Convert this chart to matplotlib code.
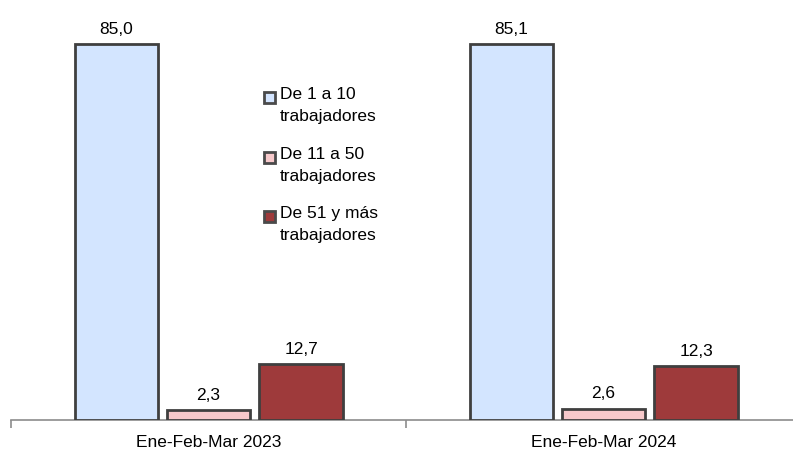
import numpy as np
import matplotlib.pyplot as plt
from matplotlib.patches import Rectangle

plt.rcParams['font.family'] = ['Liberation Sans', 'DejaVu Sans']

periodos = ['Ene-Feb-Mar 2023', 'Ene-Feb-Mar 2024']
series = ['De 1 a 10\ntrabajadores', 'De 11 a 50\ntrabajadores', 'De 51 y más\ntrabajadores']
valores = [
    [85.0, 85.1],
    [2.3, 2.6],
    [12.7, 12.3],
]
colores = ['#D3E5FF', '#F7C9CB', '#9E3A3B']

W, H = 793, 451
fig = plt.figure(figsize=(W / 100, H / 100), dpi=100)
ax = fig.add_axes([11 / W, 31 / H, (801 - 11) / W, (420 - 22) / H])

x = np.arange(len(periodos))
ancho = 0.212
desp = [-0.233, 0.0, 0.235]
for i in range(len(series)):
    bars = ax.bar(x + desp[i], valores[i], ancho, color=colores[i],
                  edgecolor='#3f3f3f', linewidth=2, zorder=3)
    for b, v in zip(bars, valores[i]):
        ax.text(b.get_x() + b.get_width() / 2, v + 1.6, f'{v:.1f}'.replace('.', ','),
                ha='center', va='bottom', fontsize=12.5)

ax.set_xlim(-0.5, 1.5)
ax.set_ylim(0, 90)
ax.set_yticks([])
for s in ['top', 'right', 'left']:
    ax.spines[s].set_visible(False)
ax.spines['bottom'].set_color('#8c8c8c')
ax.spines['bottom'].set_linewidth(1.2)
ax.set_xticks(x)
ax.set_xticklabels(periodos, fontsize=12.5)
ax.tick_params(axis='x', which='major', length=0, pad=11)
ax.set_xticks([-0.5, 0.5, 1.5], minor=True)
ax.tick_params(axis='x', which='minor', length=6, color='#8c8c8c', width=1.2)

# leyenda manual (coordenadas en pixeles de la figura)
tops = [89, 149, 208]
for i in range(3):
    y = H - tops[i]
    fig.patches.append(Rectangle((264 / W, (y - 14) / H), 11 / W, 11 / H,
                                 transform=fig.transFigure, facecolor=colores[i],
                                 edgecolor='#4a4a4a', linewidth=2))
    fig.text(280 / W, (y + 2) / H, series[i], ha='left', va='top',
             fontsize=12.5, linespacing=1.6)

fig.savefig('out.png', dpi=100)
